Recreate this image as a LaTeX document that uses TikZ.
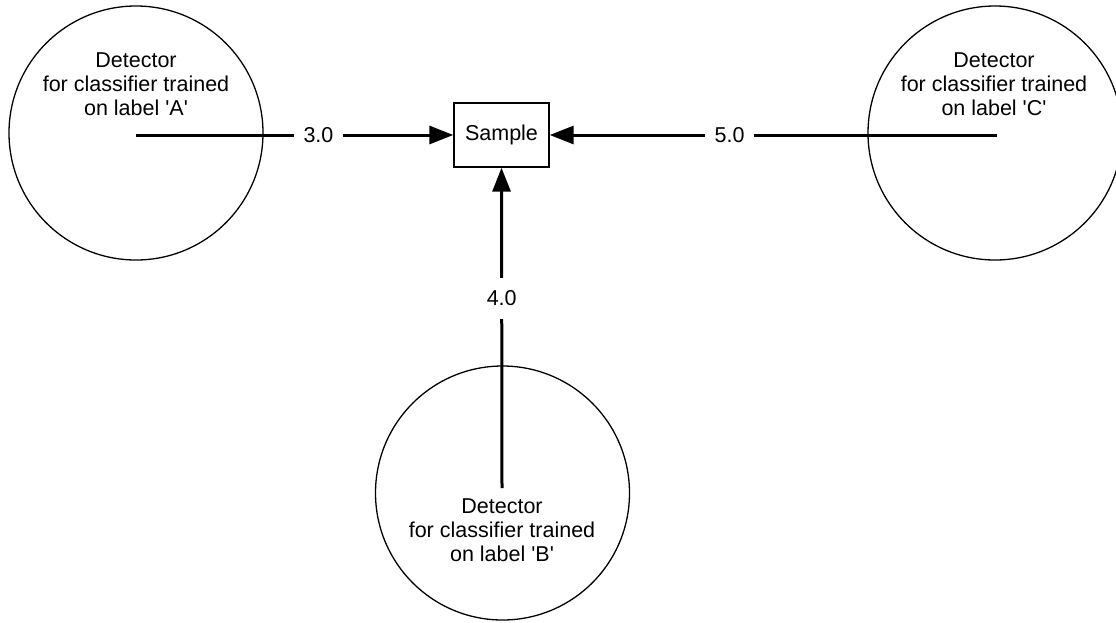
\documentclass[tikz,border=0pt]{standalone}
\usepackage{fontspec}
\setmainfont{Liberation Sans}
\usetikzlibrary{arrows.meta}
\begin{document}
\begin{tikzpicture}[x=1pt,y=-1pt,
  font=\fontsize{21.5}{24}\selectfont,
  circ/.style={draw=black, line width=1.3pt, circle, minimum size=254pt, inner sep=0pt},
  ctext/.style={align=center, inner sep=0pt},
  samplebox/.style={draw=black, line width=1.4pt, minimum width=95pt, minimum height=64pt, inner sep=0pt},
  arr/.style={line width=3pt, -{Triangle[length=24pt,width=18pt]}},
  wlabel/.style={fill=white, inner xsep=10pt, inner ysep=13pt}]
\useasboundingbox (0,0) rectangle (1116,622);
% circles
\node[circ] (cA) at (136,133) {};
\node[circ] (cC) at (995,133) {};
\node[circ] (cB) at (502.5,493) {};
% circle texts
\node[ctext] (tA) at (136,84) {Detector\\for classifier trained\\on label \textquotesingle A\textquotesingle};
\node[ctext] (tC) at (994,84) {Detector\\for classifier trained\\on label \textquotesingle C\textquotesingle};
\node[ctext] (tB) at (502,530) {Detector\\for classifier trained\\on label \textquotesingle B\textquotesingle};
% sample
\node[samplebox] (s) at (501.5,135) {Sample};
% connector start points
\coordinate (pA) at (136,135);
\coordinate (pC) at (997,135);
\coordinate (pB) at (502,488);
% connectors
\draw[arr] (pA) -- node[wlabel, pos=0.575] (lA) {3.0} (s.west);
\draw[arr] (pC) -- node[wlabel, pos=0.598] (lC) {5.0} (s.east);
\draw[arr] (pB) -- node[wlabel, pos=0.592] (lB) {4.0} (s.south);
\end{tikzpicture}
\end{document}
